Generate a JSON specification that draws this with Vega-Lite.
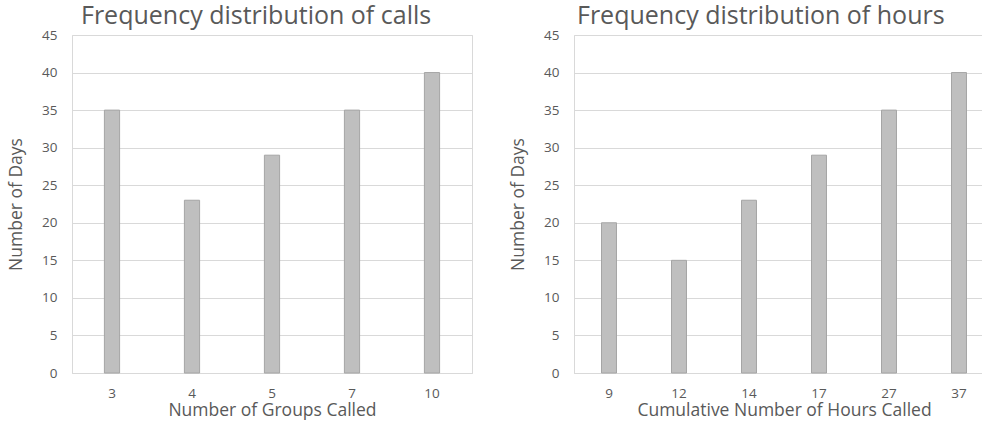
{
  "$schema": "https://vega.github.io/schema/vega-lite/v6.json",
  "padding": {"left": 7, "top": 3, "right": 0, "bottom": 0},
  "spacing": 36,
  "config": {
    "font": "Open Sans",
    "view": {"stroke": "#D9D9D9", "strokeWidth": 1},
    "axis": {
      "domainColor": "#D9D9D9",
      "gridColor": "#D9D9D9",
      "ticks": false,
      "labelColor": "#595959",
      "titleColor": "#595959",
      "labelFont": "Open Sans",
      "titleFont": "Open Sans",
      "labelFontSize": 13.5,
      "titleFontSize": 17.5,
      "titleFontWeight": "normal"
    },
    "title": {"font": "Open Sans", "fontSize": 25, "fontWeight": "normal", "color": "#595959", "anchor": "start", "frame": "group"}
  },
  "hconcat": [
    {
      "title": {"text": "Frequency distribution of calls", "dx": 9, "offset": -1},
      "width": 400,
      "height": 338,
      "data": {"values": [
        {"groups": 3, "days": 35},
        {"groups": 4, "days": 23},
        {"groups": 5, "days": 29},
        {"groups": 7, "days": 35},
        {"groups": 10, "days": 40}
      ]},
      "mark": {"type": "bar", "fill": "#BFBFBF", "stroke": "#A5A5A5", "strokeWidth": 1},
      "encoding": {
        "x": {"field": "groups", "type": "ordinal", "sort": null,
              "scale": {"paddingInner": 0.81, "paddingOuter": 0.405},
              "axis": {"title": "Number of Groups Called", "labelAngle": 0, "labelPadding": 13, "titlePadding": 2, "grid": false}},
        "y": {"field": "days", "type": "quantitative",
              "scale": {"domain": [0, 45], "nice": false},
              "axis": {"title": "Number of Days", "values": [0,5,10,15,20,25,30,35,40,45], "labelPadding": 15, "titlePadding": 16, "domain": false}}
      }
    },
    {
      "title": {"text": "Frequency distribution of hours", "dx": 3, "offset": -1},
      "width": 420,
      "height": 338,
      "data": {"values": [
        {"hours": 9, "days": 20},
        {"hours": 12, "days": 15},
        {"hours": 14, "days": 23},
        {"hours": 17, "days": 29},
        {"hours": 27, "days": 35},
        {"hours": 37, "days": 40}
      ]},
      "mark": {"type": "bar", "fill": "#BFBFBF", "stroke": "#A5A5A5", "strokeWidth": 1},
      "encoding": {
        "x": {"field": "hours", "type": "ordinal", "sort": null,
              "scale": {"paddingInner": 0.786, "paddingOuter": 0.393},
              "axis": {"title": "Cumulative Number of Hours Called", "labelAngle": 0, "labelPadding": 13, "titlePadding": 2, "grid": false}},
        "y": {"field": "days", "type": "quantitative",
              "scale": {"domain": [0, 45], "nice": false},
              "axis": {"title": "Number of Days", "values": [0,5,10,15,20,25,30,35,40,45], "labelPadding": 15, "titlePadding": 16, "domain": false}}
      }
    }
  ]
}
